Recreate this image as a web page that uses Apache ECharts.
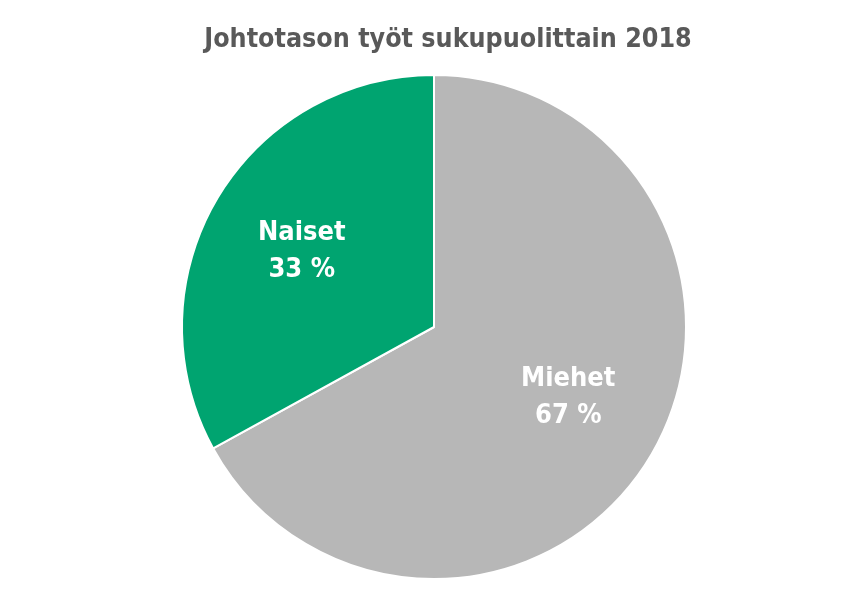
<!DOCTYPE html>
<html><head><meta charset="utf-8">
<script src="https://cdn.jsdelivr.net/npm/echarts@6/dist/echarts.min.js"></script>
<style>html,body{margin:0;padding:0;background:#fff}#c{width:864px;height:597px}</style>
</head><body><div id="c"></div>
<script>
const categories = ['Miehet', 'Naiset'];
const values = [67, 33];
const colors = ['#b7b7b7', '#00a470'];
const titleText = 'Johtotason työt sukupuolittain 2018';
const FONT = '"DejaVu Sans Condensed", "Liberation Sans Narrow", Roboto, sans-serif';
const labelOffsets = [[0, -9], [2, 4]];

const data = categories.map((c, i) => ({ name: c, value: values[i], itemStyle: { color: colors[i] } }));
const chart = echarts.init(document.getElementById('c'), null, { renderer: 'canvas' });
chart.setOption({
  animation: false,
  title: {
    text: titleText, left: 447, top: 22, textAlign: 'center',
    textStyle: { color: '#595959', fontSize: 26.6, fontWeight: 'bold', fontFamily: FONT }
  },
  series: [
    {
      type: 'pie', center: [434, 327], radius: [0, 252], startAngle: 90, clockwise: true,
      data: data, label: { show: false }, labelLine: { show: false },
      itemStyle: { borderColor: '#fff', borderWidth: 2 }, emphasis: { disabled: true }, silent: true
    },
    {
      type: 'pie', center: [434, 327], radius: [54, 252], startAngle: 90, clockwise: true,
      data: data.map((d, i) => ({ name: d.name, value: d.value, itemStyle: { color: 'rgba(0,0,0,0)' }, label: { offset: labelOffsets[i] } })),
      label: {
        show: true, position: 'inside', formatter: p => p.name + '\n' + p.value + ' %',
        color: '#fff', fontSize: 27, fontFamily: FONT, lineHeight: 37, fontWeight: 'bold'
      },
      labelLine: { show: false }, emphasis: { disabled: true }, silent: true
    }
  ]
});
chart.setOption({ title: { left: 443 } });
</script></body></html>
